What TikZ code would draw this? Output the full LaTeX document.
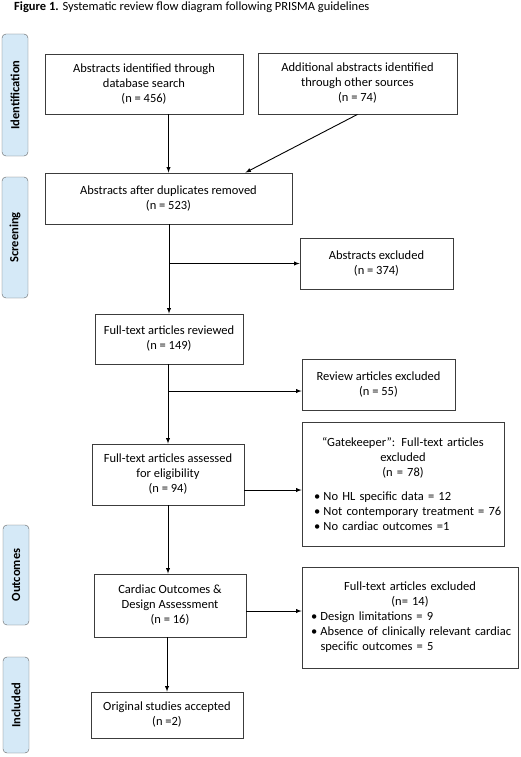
\documentclass[tikz,border=0pt]{standalone}
\usepackage{fontspec}
\setmainfont{Carlito}
\definecolor{bandblue}{HTML}{D5E9F7}
\definecolor{boxline}{HTML}{3C3C3C}
\newcommand{\bitem}[1]{\par\noindent\hangindent=9.5pt\hangafter=1\makebox[9.5pt][l]{\textbullet}#1}
\tikzset{
  box/.style={draw=boxline, line width=0.8pt, align=center, inner sep=0pt,
    font=\fontsize{12.5}{15}\selectfont},
  listbox/.style={draw=boxline, line width=0.8pt, inner sep=0pt,
    font=\fontsize{12.5}{15}\selectfont},
  band/.style={draw=boxline!80, fill=bandblue, rounded corners=4pt, rotate=90,
    minimum height=26pt, inner sep=0pt, font=\bfseries\fontsize{12.5}{14}\selectfont},
  flow/.style={line width=0.9pt, -latex},
}
\begin{document}
\begin{tikzpicture}[x=1pt, y=-1pt]
  \useasboundingbox (0,0) rectangle (520,757);

  % Title
  \node[anchor=west, inner sep=0pt, font=\fontsize{12.5}{14}\selectfont] (title) at (14,7)
    {\textbf{Figure 1.} Systematic review flow diagram following PRISMA guidelines};

  % Phase bands
  \node[band, minimum width=122pt] (idf) at (15,95) {Identification};
  \node[band, minimum width=121pt] (scr) at (15,237.5) {Screening};
  \node[band, minimum width=100pt] (out) at (16,575) {Outcomes};
  \node[band, minimum width=96pt] (inc) at (16,705) {Included};

  % Main column
  \node[box, minimum width=198pt, minimum height=60pt] (dbs) at (144,84)
    {Abstracts identified through\\ database search\\ (n = 456)};
  \node[box, minimum width=199pt, minimum height=61pt] (oth) at (357.5,83.5)
    {Additional abstracts identified\\ through other sources\\ (n = 74)};
  \node[box, minimum width=247pt, minimum height=51pt] (dup) at (168.5,198.5)
    {Abstracts after duplicates removed\\ (n = 523)};
  \node[box, minimum width=148pt, minimum height=50pt] (ftr) at (169,339)
    {Full-text articles reviewed\\ (n = 149)};
  \node[box, minimum width=152pt, minimum height=61pt] (elig) at (168,474.5)
    {Full-text articles assessed\\ for eligibility\\ (n = 94)};
  \node[box, minimum width=152pt, minimum height=63pt] (card) at (170,605.5)
    {Cardiac Outcomes \&\\ Design Assessment\\ (n = 16)};
  \node[box, minimum width=152pt, minimum height=46pt] (orig) at (167,715)
    {Original studies accepted\\ (n =2)};

  % Exclusions
  \node[box, minimum width=153pt, minimum height=51pt] (absx) at (376.5,263.5)
    {Abstracts excluded\\ (n = 374)};
  \node[box, minimum width=153pt, minimum height=51pt] (revx) at (378.5,384.5)
    {Review articles excluded\\ (n = 55)};
  \node[listbox, text width=202pt, minimum height=124pt] (gate) at (403,484)
    {{\centering “Gatekeeper”: Full-text articles\\ excluded\\ (n = 78)\par}
     \vspace{9pt}\raggedright\leftskip=12pt
     \bitem{No HL specific data = 12}
     \bitem{Not contemporary treatment = 76}
     \bitem{No cardiac outcomes =1}\par};
  \node[listbox, text width=216pt, minimum height=101pt] (dsgx) at (410,617.5)
    {{\centering Full-text articles excluded\\ (n= 14)\par}\raggedright\leftskip=9pt
     \bitem{Design limitations = 9}
     \bitem{Absence of clinically relevant cardiac\hfil\break specific outcomes = 5}\par};

  % Connectors
  \draw[flow] (dbs.south -| dup.north) -- (dup.north);
  \draw[flow] (oth.south) -- ([xshift=-47pt]dup.north east);
  \draw[flow] (dup.south -| ftr.north) -- (ftr.north);
  \coordinate (b1) at (dup.south -| ftr.north);
  \draw[flow] (b1 |- absx.west) -- (absx.west);
  \draw[flow] (ftr.south -| elig.north) -- (elig.north);
  \draw[flow] (ftr.south |- 0,391) -- (revx.west |- 0,391);
  \draw[flow] (elig.east |- 0,490) -- (gate.west |- 0,490);
  \draw[flow] (elig.south) -- (elig.south |- card.north);
  \draw[flow] (card.east |- 0,611) -- (dsgx.west |- 0,611);
  \draw[flow] (card.south -| orig.north) -- (orig.north);
\end{tikzpicture}
\end{document}
